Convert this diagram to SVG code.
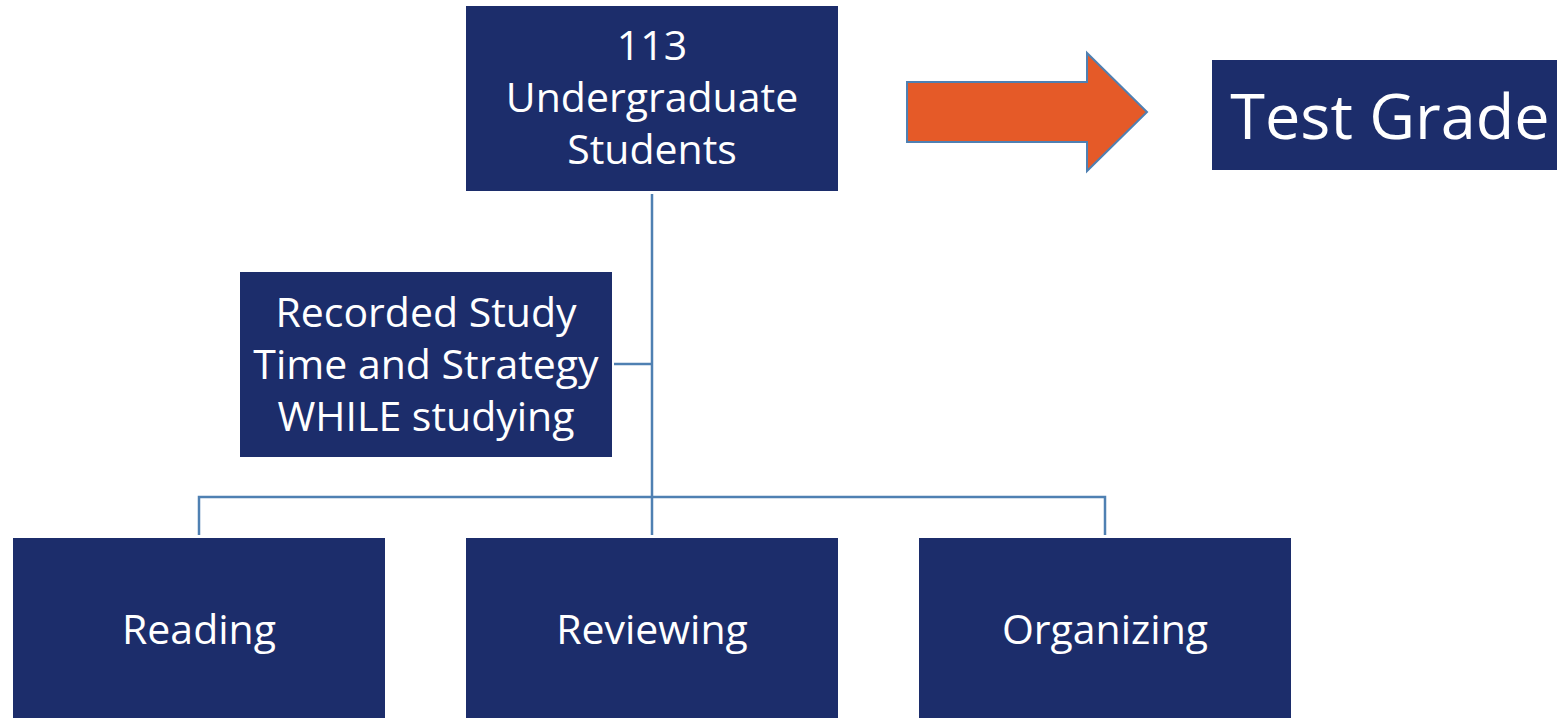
<svg xmlns="http://www.w3.org/2000/svg" width="1557" height="718" viewBox="0 0 1557 718">
  <style>
    .box { fill: #1c2d6b; }
    .lbl { fill: #ffffff; font-family: "Open Sans", "Noto Sans", "Liberation Sans", sans-serif; text-anchor: middle; font-size: 41px; }
    .conn { fill: none; stroke: #4f80b2; stroke-width: 2.5; }
  </style>
  <rect width="1557" height="718" fill="#ffffff"/>

  <!-- connectors -->
  <g id="connectors">
    <path class="conn" d="M652 194 V535"/>
    <path class="conn" d="M614 364 H652"/>
    <path class="conn" d="M199 535 V497 H1105 V535"/>
  </g>

  <g id="students">
    <rect class="box" x="466" y="6" width="372" height="185"/>
    <text class="lbl" x="652" y="60">113</text>
    <text class="lbl" x="652" y="112">Undergraduate</text>
    <text class="lbl" x="652" y="164">Students</text>
  </g>

  <g id="arrow">
    <path d="M907 82 H1087 V53 L1147 112 L1087 171 V142 H907 Z" fill="#e55a28" stroke="#4f80b2" stroke-width="2"/>
  </g>

  <g id="test-grade">
    <rect class="box" x="1212" y="60" width="345" height="110"/>
    <text class="lbl" style="font-size:63px" x="1390" y="139">Test Grade</text>
  </g>

  <g id="recorded">
    <rect class="box" x="240" y="272" width="372" height="185"/>
    <text class="lbl" x="426" y="327">Recorded Study</text>
    <text class="lbl" x="426" y="379">Time and Strategy</text>
    <text class="lbl" x="426" y="431">WHILE studying</text>
  </g>

  <g id="reading">
    <rect class="box" x="13" y="538" width="372" height="180"/>
    <text class="lbl" x="199" y="644">Reading</text>
  </g>

  <g id="reviewing">
    <rect class="box" x="466" y="538" width="372" height="180"/>
    <text class="lbl" x="652" y="644">Reviewing</text>
  </g>

  <g id="organizing">
    <rect class="box" x="919" y="538" width="372" height="180"/>
    <text class="lbl" x="1105" y="644">Organizing</text>
  </g>
</svg>
